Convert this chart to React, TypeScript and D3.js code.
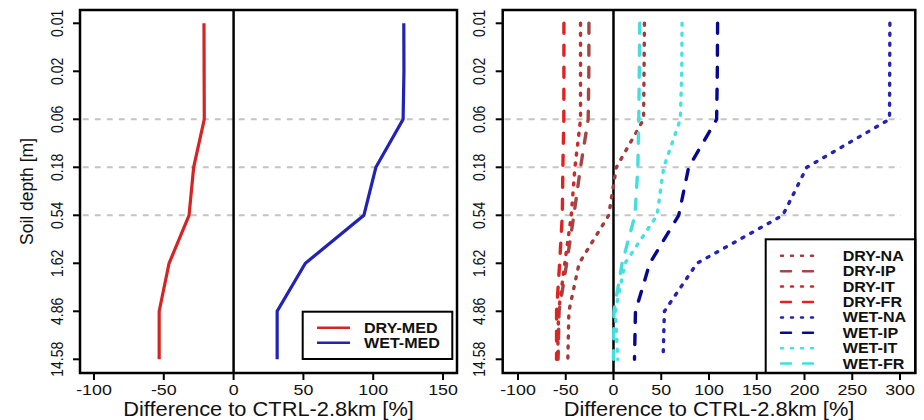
import React from 'react';
import * as d3 from 'd3';

// soil layer depths [m], shown as equally spaced categories
const depthLabels = ['0.01', '0.02', '0.06', '0.18', '0.54', '1.62', '4.86', '14.58'];
const gridDepths = ['0.06', '0.18', '0.54'];

// left panel: Mediterranean means
const dryMed = [-21.2, -21.1, -21, -28.6, -31.9, -46.2, -53.3, -53.3];
const wetMed = [121.9, 122, 121.4, 101.9, 93.3, 51.4, 31.2, 31.2];

// right panel: regions
const dryNA = [32.4, 32, 31.5, 3, -5, -36, -46.7, -47.8];
const dryIP = [-25.7, -25.8, -26.5, -34.5, -41.5, -49, -57, -58];
const dryIT = [-34.5, -34.5, -34.5, -40.4, -44.2, -51, -57.5, -58.5];
const dryFR = [-51.9, -51.9, -52, -53, -53.6, -56.4, -59.6, -59.6];
const wetNA = [289.4, 289.2, 289, 202.4, 177.3, 87.4, 53.3, 51.9];
const wetIP = [109, 108.7, 108, 78.7, 68.3, 38, 23, 22];
const wetIT = [71.8, 71.5, 70, 52.6, 45.6, 12, 2, 4.5];
const wetFR = [27.5, 27, 26.5, 25.5, 22.5, 9, 0.5, 0];

const leftTicks = [-100, -50, 0, 50, 100, 150];
const rightTicks = [-100, -50, 0, 50, 100, 150, 200, 250, 300];

const medSeries = [
  { name: 'DRY-MED', values: dryMed, color: '#d42424' },
  { name: 'WET-MED', values: wetMed, color: '#2222b4' },
];

const regionSeries = [
  { name: 'DRY-NA', values: dryNA, color: '#a23c3c', dotted: true },
  { name: 'DRY-IP', values: dryIP, color: '#a04848', dotted: false },
  { name: 'DRY-IT', values: dryIT, color: '#cd2a2a', dotted: true },
  { name: 'DRY-FR', values: dryFR, color: '#e02222', dotted: false },
  { name: 'WET-NA', values: wetNA, color: '#2424b0', dotted: true },
  { name: 'WET-IP', values: wetIP, color: '#08088e', dotted: false },
  { name: 'WET-IT', values: wetIT, color: '#44e2e2', dotted: true },
  { name: 'WET-FR', values: wetFR, color: '#44dede', dotted: false },
];

const FONT = '"Liberation Sans", Arial, Helvetica, sans-serif';
const top = 10;
const bottom = 373;
const y = d3.scalePoint<string>().domain(depthLabels).range([23.3, 359.3]);

const Panel = ({ x0, x1, domain, ticks, gridMax, children }) => {
  const x = d3.scaleLinear().domain(domain).range([x0, x1]);
  const cx = (x0 + x1) / 2;
  return (
    <g>
      {gridDepths.map((d) => (
        <line key={d} x1={x(domain[0] + 2)} x2={x(gridMax)} y1={y(d)} y2={y(d)}
          stroke="#c4c4c4" strokeWidth={2} strokeDasharray="6,6" />
      ))}
      <line x1={x(0)} x2={x(0)} y1={top} y2={bottom} stroke="#000" strokeWidth={2.5} />
      {children(x)}
      <rect x={x0} y={top} width={x1 - x0} height={bottom - top} fill="none" stroke="#000" strokeWidth={2.5} />
      {ticks.map((t) => (
        <g key={t}>
          <line x1={x(t)} x2={x(t)} y1={bottom} y2={bottom + 7} stroke="#000" strokeWidth={2} />
          <text transform={`translate(${x(t)},395) scale(1.15,1)`} textAnchor="middle"
            fontSize={15.5} fontFamily={FONT} fill="#111">{t}</text>
        </g>
      ))}
      {depthLabels.map((d) => (
        <g key={d}>
          <line x1={x0 - 7} x2={x0} y1={y(d)} y2={y(d)} stroke="#000" strokeWidth={2} />
          <text transform={`translate(${x0 - 17.5},${y(d)}) scale(1.15,1) rotate(-90)`} textAnchor="middle"
            fontSize={14} fontFamily={FONT} fill="#111">{d}</text>
        </g>
      ))}
      <text transform={`translate(${cx},415.5) scale(1.12,1)`} textAnchor="middle"
        fontSize={19.5} fontFamily={FONT} fill="#111">Difference to CTRL-2.8km [%]</text>
    </g>
  );
};

export default function App() {
  const lineFor = (x) =>
    d3.line<number>().x((v) => x(v)).y((_, i) => y(depthLabels[i]));

  return (
    <svg width={924} height={420} style={{ position: 'absolute', left: 0, top: 0, background: '#fff' }}>
      <rect width={924} height={420} fill="#fff" />
      <text transform="translate(33,191.5) rotate(-90)" textAnchor="middle" fontSize={17.5}
        fontFamily={FONT} fill="#111">Soil depth [m]</text>

      <Panel x0={80} x1={457} domain={[-110, 160]} ticks={leftTicks} gridMax={158}>
        {(x) => (
          <g>
            {medSeries.map((s) => (
              <path key={s.name} d={lineFor(x)(s.values)} fill="none" stroke={s.color} strokeWidth={3.2} />
            ))}
            <rect x={302.7} y={311.7} width={149.6} height={47.3} fill="#fff" stroke="#000" strokeWidth={2} />
            {medSeries.map((s, i) => (
              <g key={s.name}>
                <line x1={317} x2={350} y1={327.7 + i * 15} y2={327.7 + i * 15} stroke={s.color} strokeWidth={2.5} />
                <text transform={`translate(364,${332.7 + i * 15}) scale(1.15,1)`} fontSize={14}
                  fontWeight="bold" fontFamily={FONT} fill="#111">{s.name}</text>
              </g>
            ))}
          </g>
        )}
      </Panel>

      <Panel x0={502.7} x1={915.3} domain={[-116, 316]} ticks={rightTicks} gridMax={301}>
        {(x) => (
          <g>
            {regionSeries.map((s) => (
              <path key={s.name} d={lineFor(x)(s.values)} fill="none" stroke={s.color} strokeWidth={3.4}
                strokeLinecap="round" strokeDasharray={s.dotted ? '2,8' : '10,12'} />
            ))}
            <rect x={765.7} y={239.3} width={149.6} height={bottom - 239.3} fill="#fff" stroke="#000" strokeWidth={2} />
            {regionSeries.map((s, i) => (
              <g key={s.name}>
                <line x1={781} x2={820} y1={255.8 + i * 15.4} y2={255.8 + i * 15.4} stroke={s.color}
                  strokeWidth={2.5} strokeLinecap="round" strokeDasharray={s.dotted ? '2,8' : '10,12'} />
                <text transform={`translate(842.7,${260.8 + i * 15.4}) scale(1.15,1)`} fontSize={14}
                  fontWeight="bold" fontFamily={FONT} fill="#111">{s.name}</text>
              </g>
            ))}
          </g>
        )}
      </Panel>
    </svg>
  );
}
